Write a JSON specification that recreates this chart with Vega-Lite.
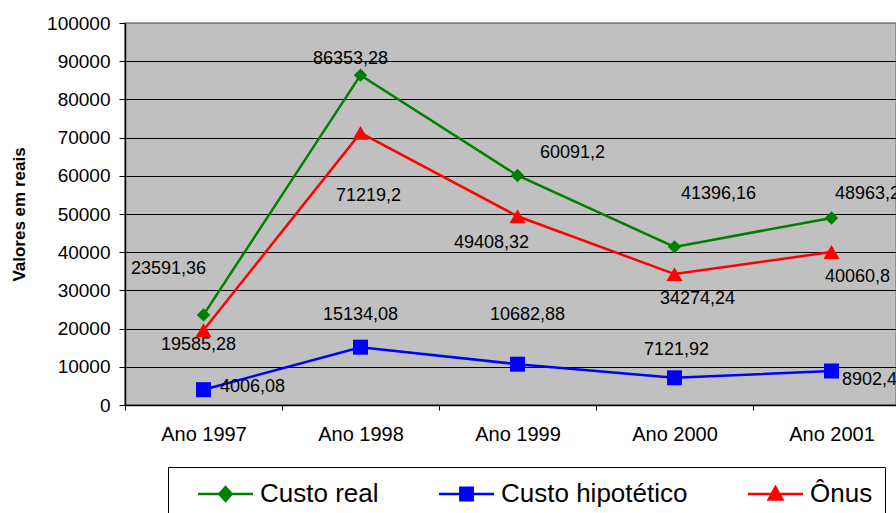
{
  "$schema": "https://vega.github.io/schema/vega-lite/v6.json",
  "autosize": {"type": "none"},
  "width": 771,
  "height": 382,
  "padding": {"left": 125, "top": 23, "right": 0, "bottom": 108},
  "background": "white",
  "config": {
    "view": {"fill": "#C0C0C0", "stroke": "#808080", "strokeWidth": 1.5},
    "font": "Liberation Sans",
    "text": {"font": "Liberation Sans", "fontSize": 18, "color": "black", "align": "center", "baseline": "middle"},
    "legend": {
      "orient": "none",
      "legendX": 43,
      "legendY": 444,
      "direction": "horizontal",
      "strokeColor": "black",
      "fillColor": "white",
      "padding": 12,
      "labelFont": "Liberation Sans",
      "labelFontSize": 26,
      "labelColor": "black",
      "labelLimit": 400,
      "labelOffset": 50,
      "columnPadding": 42,
      "symbolSize": 756,
      "symbolStrokeWidth": 2.5,
      "symbolOpacity": 1,
      "title": null
    }
  },
  "data": {
    "values": [
      {"ano": "Ano 1997", "serie": "Custo real", "valor": 23591.36},
      {"ano": "Ano 1998", "serie": "Custo real", "valor": 86353.28},
      {"ano": "Ano 1999", "serie": "Custo real", "valor": 60091.2},
      {"ano": "Ano 2000", "serie": "Custo real", "valor": 41396.16},
      {"ano": "Ano 2001", "serie": "Custo real", "valor": 48963.2},
      {"ano": "Ano 1997", "serie": "Custo hipotético", "valor": 4006.08},
      {"ano": "Ano 1998", "serie": "Custo hipotético", "valor": 15134.08},
      {"ano": "Ano 1999", "serie": "Custo hipotético", "valor": 10682.88},
      {"ano": "Ano 2000", "serie": "Custo hipotético", "valor": 7121.92},
      {"ano": "Ano 2001", "serie": "Custo hipotético", "valor": 8902.4},
      {"ano": "Ano 1997", "serie": "Ônus", "valor": 19585.28},
      {"ano": "Ano 1998", "serie": "Ônus", "valor": 71219.2},
      {"ano": "Ano 1999", "serie": "Ônus", "valor": 49408.32},
      {"ano": "Ano 2000", "serie": "Ônus", "valor": 34274.24},
      {"ano": "Ano 2001", "serie": "Ônus", "valor": 40060.8}
    ]
  },
  "transform": [
    {"calculate": "replace(toString(datum.valor), '.', ',')", "as": "rotulo"}
  ],
  "encoding": {
    "x": {
      "field": "ano", "type": "ordinal", "title": null,
      "scale": {"range": [0, 785], "paddingInner": 0, "paddingOuter": 0},
      "axis": {
        "labelAngle": 0, "labelFont": "Liberation Sans", "labelFontSize": 20, "labelColor": "black",
        "tickBand": "extent", "tickSize": 5, "tickColor": "black", "domainColor": "black", "domainWidth": 1.5,
        "labelPadding": 14, "grid": false
      }
    },
    "y": {
      "field": "valor", "type": "quantitative",
      "scale": {"domain": [0, 100000], "nice": false, "zero": true},
      "axis": {
        "title": "Valores em reais", "titleFont": "Liberation Sans", "titleFontSize": 17, "titleFontWeight": "bold", "titleColor": "black",
        "titlePadding": 18,
        "values": [0, 10000, 20000, 30000, 40000, 50000, 60000, 70000, 80000, 90000, 100000],
        "format": "d",
        "labelFont": "Liberation Sans", "labelFontSize": 19, "labelColor": "black", "labelPadding": 9,
        "tickSize": 6, "tickColor": "black", "domainColor": "black", "domainWidth": 1.5,
        "grid": true,
        "gridColor": {"condition": {"test": "datum.value === 100000", "value": "#808080"}, "value": "black"},
        "gridWidth": 1
      }
    }
  },
  "layer": [
    {
      "mark": {"type": "line", "strokeWidth": 2.5},
      "encoding": {
        "color": {
          "field": "serie", "type": "nominal",
          "scale": {"domain": ["Custo real", "Custo hipotético", "Ônus"], "range": ["#008000", "#0000FF", "#FF0000"]}
        }
      }
    },
    {
      "transform": [{"filter": "false"}],
      "mark": {"type": "point", "filled": true},
      "encoding": {
        "color": {"field": "serie", "type": "nominal"},
        "shape": {
          "field": "serie", "type": "nominal",
          "scale": {
            "domain": ["Custo real", "Custo hipotético", "Ônus"],
            "range": ["M0.22,0H4.22M2.22,-0.5L2.67,0L2.22,0.5L1.77,0Z", "M0.22,0H4.22M1.77,-0.45H2.67V0.45H1.77Z", "M0.22,0H4.22M2.22,-0.5L2.72,0.4L1.72,0.4Z"]
          }
        }
      }
    },
    {
      "transform": [{"filter": "datum.serie === 'Custo real'"}],
      "mark": {"type": "point", "shape": "diamond", "size": 180, "filled": true, "opacity": 1},
      "encoding": {"color": {"field": "serie", "type": "nominal"}}
    },
    {
      "transform": [{"filter": "datum.serie === 'Custo hipotético'"}],
      "mark": {"type": "point", "shape": "square", "size": 225, "filled": true, "opacity": 1},
      "encoding": {"color": {"field": "serie", "type": "nominal"}}
    },
    {
      "transform": [{"filter": "datum.serie === 'Ônus'"}],
      "mark": {"type": "point", "shape": "triangle-up", "size": 256, "filled": true, "opacity": 1},
      "encoding": {"color": {"field": "serie", "type": "nominal"}}
    },
    {"transform": [{"filter": "datum.serie === 'Custo real' && datum.ano === 'Ano 1997'"}], "mark": {"type": "text", "dx": -35, "dy": -46}, "encoding": {"text": {"field": "rotulo"}}},
    {"transform": [{"filter": "datum.serie === 'Custo real' && datum.ano === 'Ano 1998'"}], "mark": {"type": "text", "dx": -10, "dy": -16}, "encoding": {"text": {"field": "rotulo"}}},
    {"transform": [{"filter": "datum.serie === 'Custo real' && datum.ano === 'Ano 1999'"}], "mark": {"type": "text", "dx": 55, "dy": -22}, "encoding": {"text": {"field": "rotulo"}}},
    {"transform": [{"filter": "datum.serie === 'Custo real' && datum.ano === 'Ano 2000'"}], "mark": {"type": "text", "dx": 44, "dy": -53}, "encoding": {"text": {"field": "rotulo"}}},
    {"transform": [{"filter": "datum.serie === 'Custo real' && datum.ano === 'Ano 2001'"}], "mark": {"type": "text", "dx": 36, "dy": -24}, "encoding": {"text": {"field": "rotulo"}}},
    {"transform": [{"filter": "datum.serie === 'Ônus' && datum.ano === 'Ano 1997'"}], "mark": {"type": "text", "dx": -5, "dy": 15}, "encoding": {"text": {"field": "rotulo"}}},
    {"transform": [{"filter": "datum.serie === 'Ônus' && datum.ano === 'Ano 1998'"}], "mark": {"type": "text", "dx": 8, "dy": 63}, "encoding": {"text": {"field": "rotulo"}}},
    {"transform": [{"filter": "datum.serie === 'Ônus' && datum.ano === 'Ano 1999'"}], "mark": {"type": "text", "dx": -26, "dy": 27}, "encoding": {"text": {"field": "rotulo"}}},
    {"transform": [{"filter": "datum.serie === 'Ônus' && datum.ano === 'Ano 2000'"}], "mark": {"type": "text", "dx": 23, "dy": 25}, "encoding": {"text": {"field": "rotulo"}}},
    {"transform": [{"filter": "datum.serie === 'Ônus' && datum.ano === 'Ano 2001'"}], "mark": {"type": "text", "dx": 26, "dy": 25}, "encoding": {"text": {"field": "rotulo"}}},
    {"transform": [{"filter": "datum.serie === 'Custo hipotético' && datum.ano === 'Ano 1997'"}], "mark": {"type": "text", "dx": 49, "dy": -3}, "encoding": {"text": {"field": "rotulo"}}},
    {"transform": [{"filter": "datum.serie === 'Custo hipotético' && datum.ano === 'Ano 1998'"}], "mark": {"type": "text", "dx": 0, "dy": -32}, "encoding": {"text": {"field": "rotulo"}}},
    {"transform": [{"filter": "datum.serie === 'Custo hipotético' && datum.ano === 'Ano 1999'"}], "mark": {"type": "text", "dx": 10, "dy": -49}, "encoding": {"text": {"field": "rotulo"}}},
    {"transform": [{"filter": "datum.serie === 'Custo hipotético' && datum.ano === 'Ano 2000'"}], "mark": {"type": "text", "dx": 2, "dy": -28}, "encoding": {"text": {"field": "rotulo"}}},
    {"transform": [{"filter": "datum.serie === 'Custo hipotético' && datum.ano === 'Ano 2001'"}], "mark": {"type": "text", "dx": 38, "dy": 9}, "encoding": {"text": {"field": "rotulo"}}}
  ]
}
